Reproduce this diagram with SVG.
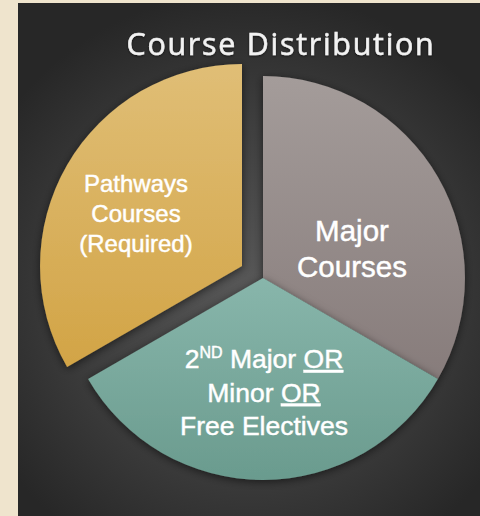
<svg xmlns="http://www.w3.org/2000/svg" width="480" height="516" viewBox="0 0 480 516">
  <defs>
    <radialGradient id="bg" cx="250" cy="290" r="300" gradientUnits="userSpaceOnUse">
      <stop offset="0" stop-color="#585858"/>
      <stop offset="0.6" stop-color="#3c3c3c"/>
      <stop offset="1" stop-color="#272727"/>
    </radialGradient>
    <linearGradient id="gYellow" x1="0" y1="0" x2="0" y2="1">
      <stop offset="0" stop-color="#e0be76"/>
      <stop offset="1" stop-color="#d2a446"/>
    </linearGradient>
    <linearGradient id="gGray" x1="0" y1="0" x2="0" y2="1">
      <stop offset="0" stop-color="#a49c9a"/>
      <stop offset="1" stop-color="#877c7b"/>
    </linearGradient>
    <linearGradient id="gTeal" x1="0" y1="0" x2="0" y2="1">
      <stop offset="0" stop-color="#88b6ab"/>
      <stop offset="1" stop-color="#6a9b8e"/>
    </linearGradient>
    <filter id="shadow" x="-20%" y="-20%" width="140%" height="140%">
      <feDropShadow dx="0" dy="2" stdDeviation="4" flood-color="#000" flood-opacity="0.55"/>
    </filter>
    <filter id="tshadow" x="-10%" y="-30%" width="120%" height="160%">
      <feDropShadow dx="0" dy="1" stdDeviation="1.2" flood-color="#000" flood-opacity="0.6"/>
    </filter>
  </defs>
  <style>
    .lbl { font-family: "Liberation Sans", Arial, sans-serif; fill: #ffffff; stroke: #ffffff; stroke-width: 0.45px; text-anchor: middle; }
    .title { font-family: "Open Sans", "Noto Sans", sans-serif; fill: #f2f2f2; stroke: #f2f2f2; stroke-width: 0.5px; text-anchor: middle; font-size: 30.5px; letter-spacing: 1.7px; }
  </style>
  <rect x="0" y="0" width="480" height="516" fill="#efe4cd"/>
  <rect x="18" y="3" width="462" height="513" fill="url(#bg)"/>

  <g id="title">
    <text class="title" x="281" y="55" filter="url(#tshadow)">Course Distribution</text>
  </g>

  <g id="pathways">
    <path d="M242,266 L242,64 A202,202 0 0 0 67.1,367 Z" fill="url(#gYellow)" filter="url(#shadow)"/>
    <text class="lbl" font-size="24" x="136" y="192">Pathways</text>
    <text class="lbl" font-size="24" x="136" y="222">Courses</text>
    <text class="lbl" font-size="24" x="136" y="252">(Required)</text>
  </g>

  <g id="major">
    <path d="M263,278 L263,76 A202,202 0 0 1 437.9,379 Z" fill="url(#gGray)" filter="url(#shadow)"/>
    <text class="lbl" font-size="29.5" x="352" y="241">Major</text>
    <text class="lbl" font-size="29.5" x="352" y="277">Courses</text>
  </g>

  <g id="electives">
    <path d="M263,278 L437.9,379 A202,202 0 0 1 88.1,379 Z" fill="url(#gTeal)" filter="url(#shadow)"/>
    <text class="lbl" font-size="26.5" x="264" y="368">2<tspan font-size="16" dy="-10">ND</tspan><tspan dy="10"> Major </tspan><tspan text-decoration="underline">OR</tspan></text>
    <text class="lbl" font-size="26.5" x="264" y="401.5">Minor <tspan text-decoration="underline">OR</tspan></text>
    <text class="lbl" font-size="26.5" x="264" y="435">Free Electives</text>
  </g>

  <g id="connectors"/>
</svg>
